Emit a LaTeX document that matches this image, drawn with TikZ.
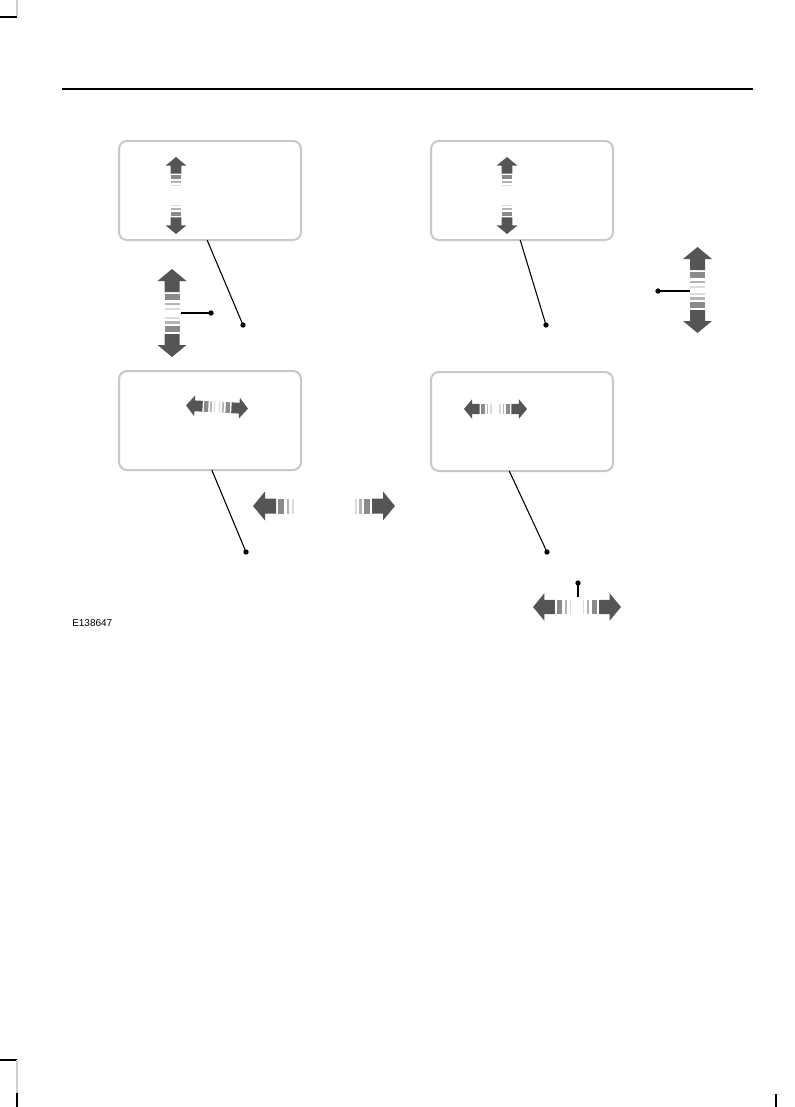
\documentclass[tikz,border=0pt]{standalone}
\usepackage{fontspec}
\setmainfont{Liberation Sans}
\usetikzlibrary{calc}
\definecolor{adark}{HTML}{555555}
\definecolor{agray}{HTML}{8A8A8A}
\definecolor{alight}{HTML}{B4B4B4}
\definecolor{alighter}{HTML}{DCDCDC}
\definecolor{boxgray}{HTML}{C8C8C8}
\definecolor{cropgray}{HTML}{D0D0D0}
% striped double arrow: cx, cy, angle, half-length L, scale s
\newcommand\stripedarrow[5]{%
\begin{scope}[shift={(#1,#2)},rotate=#3]
 \foreach \m in {1,-1}{%
  \begin{scope}[xscale=\m]
   \fill[adark] (-#4,0) -- ({-#4+12*#5},{-14.5*#5}) -- ({-#4+12*#5},{-7.5*#5})
     -- ({-#4+23*#5},{-7.5*#5}) -- ({-#4+23*#5},{7.5*#5}) -- ({-#4+12*#5},{7.5*#5})
     -- ({-#4+12*#5},{14.5*#5}) -- cycle;
   \fill[agray] ({-#4+25*#5},{-7.5*#5}) rectangle ({-#4+31*#5},{7.5*#5});
   \fill[alight] ({-#4+33.5*#5},{-7.5*#5}) rectangle ({-#4+36*#5},{7.5*#5});
   \fill[alighter] ({-#4+38.5*#5},{-7.5*#5}) rectangle ({-#4+40.5*#5},{7.5*#5});
  \end{scope}}
\end{scope}}
\tikzset{
  panel/.style={draw=boxgray, line width=1.5pt, rounded corners=6pt, fill=white,
    minimum width=136.5pt, minimum height=74.25pt, inner sep=0pt, outer sep=0pt},
  dot/.style={circle, fill=black, inner sep=0pt, minimum size=4pt},
  leader/.style={draw=black, line width=0.8pt},
  crop/.style={line width=0.9pt}
}
\begin{document}
\begin{tikzpicture}[x=0.75pt,y=-0.75pt]
\useasboundingbox (0,0) rectangle (795,1107);
% crop marks
\draw[crop,cropgray] (17,0) -- (17,16);
\draw[crop] (0,17) -- (17,17);
\draw[crop] (0,1060) -- (17,1060);
\draw[crop,cropgray] (17,1060) -- (17,1093);
\draw[crop] (17,1093) -- (17,1107);
\draw[crop] (776,1094) -- (776,1107);
% header rule
\draw[line width=0.8pt] (62,89) -- (753,89);
% panels
\node[panel] (boxTL) at (210,190.5) {};
\node[panel] (boxTR) at (522,190.5) {};
\node[panel] (boxBL) at (210,420.5) {};
\node[panel] (boxBR) at (522,421.5) {};
% arrows inside panels
\stripedarrow{176}{195.5}{90}{38.5}{0.72}
\stripedarrow{507}{195.5}{90}{38.5}{0.72}
\stripedarrow{217}{407}{-3}{31}{0.72}
\stripedarrow{495.5}{409}{0}{31.5}{0.68}
% big arrows
\stripedarrow{172}{313}{90}{44}{1}
\stripedarrow{697.5}{290}{90}{43}{1}
\stripedarrow{324}{506}{0}{71}{1}
\stripedarrow{577}{607}{0}{44}{0.95}
% dots
\node[dot] (dTL) at (243,325) {};
\node[dot] (dTR) at (546,325) {};
\node[dot] (dBL) at (246,552) {};
\node[dot] (dBR) at (547,552) {};
\node[dot] (dL) at (211,313) {};
\node[dot] (dR) at (658,291) {};
\node[dot] (dB) at (578,583) {};
% free ends on the arrows
\coordinate (eL) at (181,313);
\coordinate (eR) at (690,291);
\coordinate (eB) at (578,597);
% leaders
\draw[leader] ($(boxTL.south west)!0.484!(boxTL.south east)$) -- (dTL.center);
\draw[leader] ($(boxTR.south west)!0.49!(boxTR.south east)$) -- (dTR.center);
\draw[leader] ($(boxBL.south west)!0.51!(boxBL.south east)$) -- (dBL.center);
\draw[leader] ($(boxBR.south west)!0.43!(boxBR.south east)$) -- (dBR.center);
\draw[leader] (eL) -- (dL.center);
\draw[leader] (dR.center) -- (eR);
\draw[leader] (dB.center) -- (eB);
% figure code
\node[anchor=base west, font=\fontsize{7.5pt}{9pt}\selectfont, inner sep=0pt] (code) at (72,626) {E138647};
\end{tikzpicture}
\end{document}
